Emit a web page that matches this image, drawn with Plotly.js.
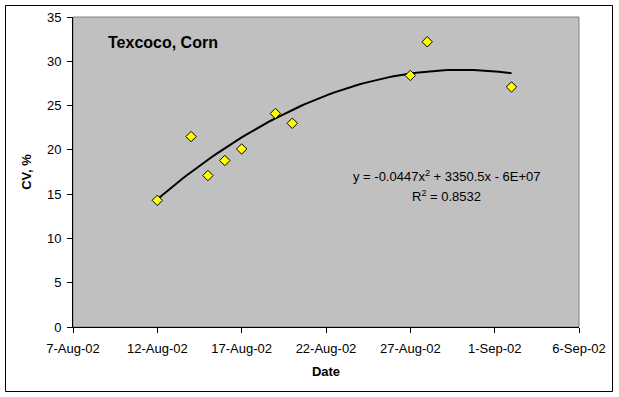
<!DOCTYPE html>
<html>
<head>
<meta charset="utf-8">
<script src="https://cdn.plot.ly/plotly-3.0.1.min.js"></script>
<style>
  html, body { margin: 0; padding: 0; background: #fff; }
  #chart { width: 619px; height: 397px; }
</style>
</head>
<body>
<div id="chart"></div>
<script>
// ---- data ----
const dates = ['2002-08-12', '2002-08-14', '2002-08-15', '2002-08-16', '2002-08-17',
               '2002-08-19', '2002-08-20', '2002-08-27', '2002-08-28', '2002-09-02'];
const cvValues = [14.3, 21.5, 17.1, 18.8, 20.1, 24.1, 23.0, 28.4, 32.2, 27.1];

const tickDates = ['2002-08-07', '2002-08-12', '2002-08-17', '2002-08-22',
                   '2002-08-27', '2002-09-01', '2002-09-06'];
const tickLabels = ['7-Aug-02', '12-Aug-02', '17-Aug-02', '22-Aug-02',
                    '27-Aug-02', '1-Sep-02', '6-Sep-02'];

const chartTitle = 'Texcoco, Corn';
const equationText = 'y = -0.0447x<sup>2</sup> + 3350.5x - 6E+07';
const r2Text = 'R<sup>2</sup> = 0.8532';

// ---- polynomial (order 2) trendline: least-squares fit of the data above ----
const DAY = 86400000;
const t0 = Date.parse(dates[0]);
const tx = dates.map(d => (Date.parse(d) - t0) / DAY);
function quadFit(xs, ys) {
  let S = [0, 0, 0, 0, 0], T = [0, 0, 0];
  for (let i = 0; i < xs.length; i++) {
    let p = 1;
    for (let k = 0; k < 5; k++) { S[k] += p; if (k < 3) T[k] += p * ys[i]; p *= xs[i]; }
  }
  const A = [[S[0], S[1], S[2], T[0]], [S[1], S[2], S[3], T[1]], [S[2], S[3], S[4], T[2]]];
  for (let c = 0; c < 3; c++) {
    for (let r = c + 1; r < 3; r++) {
      const f = A[r][c] / A[c][c];
      for (let k = c; k < 4; k++) A[r][k] -= f * A[c][k];
    }
  }
  const b = [0, 0, 0];
  for (let r = 2; r >= 0; r--) {
    let s = A[r][3];
    for (let k = r + 1; k < 3; k++) s -= A[r][k] * b[k];
    b[r] = s / A[r][r];
  }
  return b;
}
const coef = quadFit(tx, cvValues);
const trendX = [], trendY = [];
const tMax = tx[tx.length - 1];
for (let i = 0; i <= 84; i++) {
  const t = tMax * i / 84;
  const iso = new Date(t0 + t * DAY).toISOString();
  trendX.push(iso.slice(0, 10) + ' ' + iso.slice(11, 19));
  trendY.push(coef[0] + coef[1] * t + coef[2] * t * t);
}

const FONT = 'Arial, "Liberation Sans", sans-serif';

const traces = [
  {
    x: trendX, y: trendY, type: 'scatter', mode: 'lines',
    line: { color: '#000000', width: 2 },
    hoverinfo: 'skip', showlegend: false
  },
  {
    x: dates, y: cvValues, type: 'scatter', mode: 'markers',
    marker: { symbol: 'diamond', size: 8, color: '#FFFF00',
              line: { color: '#000000', width: 1 } },
    showlegend: false
  }
];

const layout = {
  width: 619, height: 397,
  margin: { l: 73, r: 40, t: 17, b: 70 },
  paper_bgcolor: '#FFFFFF',
  plot_bgcolor: '#C0C0C0',
  font: { family: FONT, size: 13, color: '#000000' },
  showlegend: false,
  xaxis: {
    type: 'date',
    range: ['2002-08-07', '2002-09-06'],
    tickmode: 'array', tickvals: tickDates, ticktext: tickLabels,
    ticks: 'outside', ticklen: 5, tickcolor: '#000', tickwidth: 1,
    showline: true, linecolor: '#000', linewidth: 1,
    showgrid: false, zeroline: false,
    ticklabelstandoff: 4,
    tickfont: { family: FONT, size: 13 },
    title: { text: '<b>Date</b>', font: { family: FONT, size: 13 }, standoff: 12 }
  },
  yaxis: {
    range: [0, 35], dtick: 5, tick0: 0,
    ticks: 'outside', ticklen: 5, tickcolor: '#000', tickwidth: 1,
    showline: true, linecolor: '#000', linewidth: 1,
    showgrid: false, zeroline: false,
    ticklabelstandoff: 3,
    tickfont: { family: FONT, size: 13 },
    title: { text: '<b>CV, %</b>', font: { family: FONT, size: 13 }, standoff: 12 }
  },
  shapes: [
    { type: 'rect', xref: 'paper', yref: 'paper', x0: 0, x1: 1, y0: 0, y1: 1,
      line: { color: '#808080', width: 1 }, layer: 'below' },
    { type: 'rect', xref: 'paper', yref: 'paper',
      x0: (5.5 - 73) / 506, x1: (612.5 - 73) / 506,
      y0: (327 - 391.5) / 310, y1: (327 - 5.5) / 310,
      line: { color: '#000000', width: 1 } }
  ],
  annotations: [
    { text: '<b>' + chartTitle + '</b>', xref: 'paper', yref: 'paper',
      x: (106 - 73) / 506, y: (327 - 42.7) / 310, xanchor: 'left', yanchor: 'middle',
      showarrow: false, font: { family: FONT, size: 16 } },
    { text: equationText, xref: 'paper', yref: 'paper',
      x: (446.5 - 73) / 506, y: (327 - 176.3) / 310, xanchor: 'center', yanchor: 'middle',
      showarrow: false, font: { family: FONT, size: 13 } },
    { text: r2Text, xref: 'paper', yref: 'paper',
      x: (446.5 - 73) / 506, y: (327 - 196) / 310, xanchor: 'center', yanchor: 'middle',
      showarrow: false, font: { family: FONT, size: 13 } }
  ]
};

Plotly.newPlot('chart', traces, layout, { staticPlot: true, displayModeBar: false });
</script>
</body>
</html>
